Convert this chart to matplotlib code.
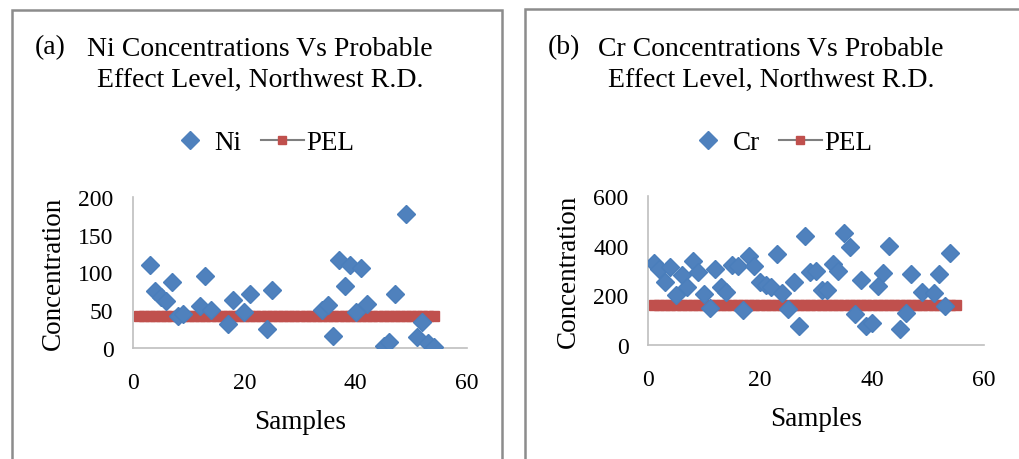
import matplotlib
matplotlib.use("Agg")
import matplotlib.pyplot as plt
from matplotlib.lines import Line2D
from matplotlib.patches import Rectangle

plt.rcParams['font.family'] = ['Liberation Serif', 'DejaVu Serif']

W, H = 1020, 460

# Ni (panel a)
ni_samples = [3, 4, 5, 6, 7, 8, 9, 12, 13, 14, 17, 18, 20, 21, 24, 25,
              34, 35, 36, 37, 38, 39, 40, 41, 42, 45, 46, 47, 49, 51, 52, 53, 54]
ni_values = [110, 75, 67, 62, 88, 42, 45, 55, 95, 50, 32, 63, 48, 72, 25, 77,
             50, 57, 16, 117, 82, 110, 48, 106, 58, 3, 8, 72, 177, 14, 35, 6, 1]
ni_pel = 42
ni_pel_samples = list(range(1, 55))
ni_yticks = [0, 50, 100, 150, 200]

# Cr (panel b)
cr_samples = [1, 2, 3, 4, 5, 6, 7, 8, 9, 10, 11, 12, 13, 14, 15, 16, 17, 18,
              19, 20, 21, 22, 23, 24, 25, 26, 27, 28, 29, 30, 31, 32, 33, 34,
              35, 36, 37, 38, 39, 40, 41, 42, 43, 45, 46, 47, 49, 51, 52, 53, 54]
cr_values = [330, 305, 255, 315, 200, 280, 235, 340, 295, 205, 150, 305, 232,
             213, 322, 318, 141, 357, 318, 252, 240, 232, 366, 208, 145, 255,
             76, 437, 292, 300, 222, 222, 327, 298, 451, 395, 125, 262, 76, 89,
             239, 290, 400, 65, 130, 285, 213, 209, 285, 157, 370]
cr_pel = 160
cr_pel_samples = list(range(1, 56))
cr_yticks = [0, 200, 400, 600]

xticks = [0, 20, 40, 60]

BLUE = '#4F81BD'
RED = '#C0504D'
GREY = '#8c8c8c'


def make_panel(fig, rect, samples, values, pel_samples, pel, yticks):
    ax = fig.add_axes(rect)
    ax.plot(pel_samples, [pel] * len(pel_samples), color=RED, lw=3,
            marker='s', markersize=6.5, markeredgecolor=RED, zorder=2)
    ax.plot(samples, values, linestyle='none', marker='D', markersize=9.5,
            color=BLUE, markeredgecolor='#4A7EBB', zorder=3)
    ax.set_xlim(0, 60)
    ax.set_ylim(0, yticks[-1])
    ax.set_xticks(xticks)
    ax.set_yticks(yticks)
    for s in ['top', 'right']:
        ax.spines[s].set_visible(False)
    for s in ['left', 'bottom']:
        ax.spines[s].set_color('#bfbfbf')
        ax.spines[s].set_linewidth(1.2)
    ax.tick_params(axis='both', length=0, labelsize=17)
    ax.tick_params(axis='y', pad=14)
    ax.tick_params(axis='x', pad=17)
    ax.set_xlabel('Samples', fontsize=19.5, labelpad=12)
    ax.set_ylabel('Concentration', fontsize=19.5, labelpad=9)
    handles = [Line2D([], [], linestyle='none', marker='D', markersize=9,
                      color=BLUE),
               Line2D([], [], color='#7f7f7f', lw=1.5, marker='s',
                      markersize=6, markerfacecolor=RED, markeredgecolor=RED)]
    return ax, handles


def add_legend(fig, handles, labels, x_left, y):
    fig.legend(handles, labels, loc='center left', ncol=2, frameon=False,
               bbox_to_anchor=(x_left / W, 1 - y / H), fontsize=19.5,
               borderpad=0, handlelength=1.6, handletextpad=0.1,
               columnspacing=0.7)


fig = plt.figure(figsize=(W / 100, H / 100), dpi=100)

# panel frames
fig.add_artist(Rectangle((12 / W, -0.1), 490 / W, 1 - 11 / H + 0.1,
                         transform=fig.transFigure, fill=False,
                         edgecolor=GREY, lw=1.8))
fig.add_artist(Rectangle((525 / W, -0.1), 0.6, 1 - 10 / H + 0.1,
                         transform=fig.transFigure, fill=False,
                         edgecolor=GREY, lw=1.8))

ax1, h1 = make_panel(fig, [133 / W, 1 - 349 / H, 334 / W, 151 / H],
                     ni_samples, ni_values, ni_pel_samples, ni_pel, ni_yticks)
ax2, h2 = make_panel(fig, [648 / W, 1 - 346 / H, 336 / W, 149 / H],
                     cr_samples, cr_values, cr_pel_samples, cr_pel, cr_yticks)

fig.text(35 / W, 1 - 48 / H, '(a)', fontsize=20, va='center', ha='left')
fig.text(260 / W, 1 - 65 / H,
         'Ni Concentrations Vs Probable\nEffect Level, Northwest R.D.',
         fontsize=20, va='center', ha='center', linespacing=1.3)
fig.text(548 / W, 1 - 48 / H, '(b)', fontsize=20, va='center', ha='left')
fig.text(771 / W, 1 - 65 / H,
         'Cr Concentrations Vs Probable\nEffect Level, Northwest R.D.',
         fontsize=20, va='center', ha='center', linespacing=1.3)

add_legend(fig, h1, ['Ni', 'PEL'], 155, 144)
add_legend(fig, h2, ['Cr', 'PEL'], 673, 144)

fig.savefig('out.png', dpi=100)
